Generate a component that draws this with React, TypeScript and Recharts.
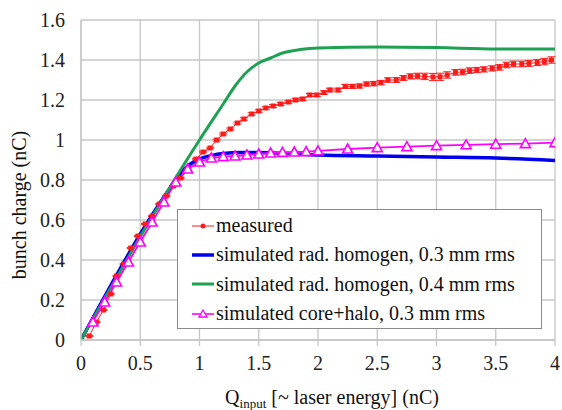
import React from "react";
import {
  ComposedChart,
  Line,
  XAxis,
  YAxis,
  CartesianGrid,
  ErrorBar,
  Legend,
  Label,
} from "recharts";

// ---- data ----
const measuredQ = [
  0.07, 0.13, 0.19, 0.25, 0.3, 0.36, 0.42, 0.48, 0.54, 0.6, 0.66, 0.72, 0.78, 0.84, 0.9, 0.97,
  1.03, 1.09, 1.145, 1.2, 1.26, 1.32, 1.375, 1.44, 1.5, 1.56, 1.62, 1.685, 1.75, 1.81, 1.87,
  1.93, 1.99, 2.05, 2.1, 2.17, 2.23, 2.29, 2.35, 2.41, 2.47, 2.53, 2.59, 2.66, 2.72, 2.78, 2.84,
  2.9, 2.97, 3.03, 3.09, 3.16, 3.22, 3.28, 3.34, 3.4, 3.47, 3.53, 3.59, 3.65, 3.72, 3.78, 3.85,
  3.91, 3.97,
];
const measuredCharge = [
  0.02, 0.09, 0.15, 0.23, 0.32, 0.38, 0.46, 0.52, 0.58, 0.62, 0.68, 0.72, 0.77, 0.81, 0.85, 0.905,
  0.94, 0.96, 1.0, 1.03, 1.055, 1.085, 1.105, 1.13, 1.145, 1.16, 1.17, 1.18, 1.19, 1.2, 1.205,
  1.225, 1.225, 1.237, 1.25, 1.25, 1.268, 1.268, 1.27, 1.28, 1.282, 1.287, 1.3, 1.3, 1.31, 1.318,
  1.32, 1.318, 1.315, 1.316, 1.325, 1.338, 1.34, 1.347, 1.35, 1.353, 1.358, 1.363, 1.375, 1.38,
  1.38, 1.383, 1.387, 1.392, 1.4,
];
const measuredErr = [
  0.003, 0.003, 0.003, 0.003, 0.003, 0.003, 0.003, 0.003, 0.003, 0.003, 0.003, 0.003, 0.003, 0.003,
  0.004, 0.004, 0.004, 0.004, 0.005, 0.005, 0.005, 0.005, 0.006, 0.006, 0.006, 0.006, 0.007, 0.007,
  0.007, 0.008, 0.008, 0.008, 0.008, 0.009, 0.009, 0.009, 0.01, 0.01, 0.01, 0.01, 0.011, 0.011,
  0.011, 0.012, 0.012, 0.013, 0.014, 0.016, 0.018, 0.018, 0.016, 0.014, 0.014, 0.014, 0.013, 0.013,
  0.013, 0.014, 0.014, 0.014, 0.014, 0.015, 0.015, 0.016, 0.016,
];

const blueQ = [0, 0.8, 0.85, 0.9, 0.95, 1.0, 1.1, 1.2, 1.35, 1.5, 1.75, 2.0, 2.5, 3.0, 3.5, 4.0];
const blueCharge = [0, 0.8, 0.84, 0.87, 0.89, 0.905, 0.922, 0.932, 0.937, 0.937, 0.932, 0.925, 0.92, 0.915, 0.91, 0.898];

const greenQ = [0, 1.0, 1.2, 1.3, 1.4, 1.5, 1.6, 1.7, 1.85, 2.0, 2.5, 3.0, 3.5, 4.0];
const greenCharge = [0, 1.0, 1.18, 1.27, 1.34, 1.385, 1.41, 1.435, 1.452, 1.46, 1.465, 1.462, 1.455, 1.455];

const haloQ = [
  0.1, 0.2, 0.3, 0.4, 0.5, 0.6, 0.7, 0.8, 0.9, 1.0, 1.1, 1.2, 1.3, 1.4, 1.5, 1.6, 1.7, 1.8, 1.9,
  2.0, 2.25, 2.5, 2.75, 3.0, 3.25, 3.5, 3.75, 4.0,
];
const haloCharge = [
  0.09, 0.19, 0.29, 0.39, 0.49, 0.59, 0.69, 0.79, 0.855, 0.89, 0.91, 0.917, 0.92, 0.925, 0.93,
  0.935, 0.938, 0.94, 0.942, 0.946, 0.955, 0.962, 0.967, 0.972, 0.976, 0.979, 0.982, 0.987,
];

const xTicks = [0, 0.5, 1, 1.5, 2, 2.5, 3, 3.5, 4];
const yTicks = [0, 0.2, 0.4, 0.6, 0.8, 1, 1.2, 1.4, 1.6];

const legendLabels = [
  "measured",
  "simulated rad. homogen, 0.3 mm rms",
  "simulated rad. homogen, 0.4 mm rms",
  "simulated core+halo, 0.3 mm rms",
];

// ---- build tables ----
const measuredData = measuredQ.map((x, i) => ({ x, y: measuredCharge[i], err: measuredErr[i] }));
const blueData = blueQ.map((x, i) => ({ x, y: blueCharge[i] }));
const greenData = greenQ.map((x, i) => ({ x, y: greenCharge[i] }));
const haloData = haloQ.map((x, i) => ({ x, y: haloCharge[i] }));

const RED = "#ff1a1a";
const BLUE = "#0000f0";
const GREEN = "#1ea152";
const MAGENTA = "#ff00ff";
const GRID = "#c6c6c6";
const FONT = '"Liberation Serif", "DejaVu Serif", serif';

const SquareDot = (props: any) => {
  const { cx, cy, index } = props;
  if (cx == null || cy == null) return <g key={`s${index}`} />;
  return <rect key={`s${index}`} x={cx - 2.5} y={cy - 2.5} width={5} height={5} fill={RED} />;
};

const TriangleDot = (props: any) => {
  const { cx, cy, index } = props;
  if (cx == null || cy == null) return <g key={`t${index}`} />;
  return (
    <polygon
      key={`t${index}`}
      points={`${cx},${cy - 5} ${cx - 5},${cy + 4} ${cx + 5},${cy + 4}`}
      fill="#ffffff"
      stroke={MAGENTA}
      strokeWidth={1.6}
    />
  );
};

const LegendIcon = ({ idx }: { idx: number }) => {
  return (
    <svg width={22} height={12} style={{ display: "block" }}>
      {idx === 0 && (
        <>
          <line x1={0} y1={6} x2={22} y2={6} stroke={RED} strokeWidth={1} />
          <circle cx={11} cy={6} r={2.5} fill={RED} />
        </>
      )}
      {idx === 1 && <line x1={0} y1={6} x2={22} y2={6} stroke={BLUE} strokeWidth={3.5} />}
      {idx === 2 && <line x1={0} y1={6} x2={22} y2={6} stroke={GREEN} strokeWidth={3} />}
      {idx === 3 && (
        <>
          <line x1={0} y1={6} x2={22} y2={6} stroke={MAGENTA} strokeWidth={1.6} />
          <polygon points="11,2 7,9 15,9" fill="#ffffff" stroke={MAGENTA} strokeWidth={1.3} />
        </>
      )}
    </svg>
  );
};

const LegendBox = () => (
  <div
    style={{
      width: 363,
      height: 117,
      border: "1px solid #8a8a8a",
      background: "#ffffff",
      boxSizing: "content-box",
      fontFamily: FONT,
      fontSize: 20,
      color: "#111",
      paddingTop: 1,
    }}
  >
    {legendLabels.map((t, i) => (
      <div
        key={t}
        style={{ display: "flex", alignItems: "center", height: 29.3, paddingLeft: 14, whiteSpace: "nowrap" }}
      >
        <LegendIcon idx={i} />
        <span style={{ marginLeft: 2 }}>{t}</span>
      </div>
    ))}
  </div>
);

const XTitle = () => {
  return (
    <text x={332} y={404} textAnchor="middle" fontFamily={FONT} fontSize={20} fill="#111">
      <tspan>Q</tspan>
      <tspan fontSize={13} dy={4}>input</tspan>
      <tspan dy={-4}> [~ laser energy] (nC)</tspan>
    </text>
  );
};

const YTitle = () => {
  const x = 19;
  const y = 205;
  return (
    <text
      x={x}
      y={y}
      transform={`rotate(-90 ${x} ${y})`}
      textAnchor="middle"
      dominantBaseline="central"
      fontFamily={FONT}
      fontSize={20}
      fill="#111"
    >
      bunch charge (nC)
    </text>
  );
};

export default function App() {
  return (
    <div style={{ position: "absolute", left: 0, top: 0, width: 562, height: 410 }}>
      <ComposedChart
        width={562}
        height={410}
        margin={{ top: 20, right: 7, left: 0, bottom: 0 }}
        style={{ fontFamily: FONT }}
      >
        <CartesianGrid stroke={GRID} strokeWidth={1.3} />
        <XAxis
          type="number"
          dataKey="x"
          domain={[0, 4]}
          ticks={xTicks}
          allowDataOverflow
          height={70}
          axisLine={{ stroke: GRID, strokeWidth: 1.3 }}
          tickLine={{ stroke: GRID, strokeWidth: 1.3 }}
          tickSize={6}
          tickMargin={10}
          tick={{ fontSize: 20, fill: "#222", fontFamily: FONT }}
        >
          <Label content={<XTitle />} />
        </XAxis>
        <YAxis
          type="number"
          domain={[0, 1.6]}
          ticks={yTicks}
          allowDataOverflow
          width={81}
          axisLine={{ stroke: GRID, strokeWidth: 1.3 }}
          tickLine={false}
          tickSize={6}
          tickMargin={10}
          tick={{ fontSize: 20, fill: "#222", fontFamily: FONT }}
        >
          <Label content={<YTitle />} />
        </YAxis>
        <Legend
          layout="vertical"
          align="center"
          verticalAlign="middle"
          content={() => <LegendBox />}
          wrapperStyle={{ position: "absolute", left: 177, top: 209, width: 365, height: 119 }}
        />
        <Line
          data={measuredData}
          dataKey="y"
          type="linear"
          stroke={RED}
          strokeWidth={1}
          dot={SquareDot}
          activeDot={false}
          isAnimationActive={false}
        >
          <ErrorBar dataKey="err" width={4} stroke={RED} strokeWidth={1} direction="y" />
        </Line>
        <Line
          data={blueData}
          dataKey="y"
          type="monotone"
          stroke={BLUE}
          strokeWidth={3.5}
          dot={false}
          activeDot={false}
          isAnimationActive={false}
        />
        <Line
          data={greenData}
          dataKey="y"
          type="monotone"
          stroke={GREEN}
          strokeWidth={3}
          dot={false}
          activeDot={false}
          isAnimationActive={false}
        />
        <Line
          data={haloData}
          dataKey="y"
          type="linear"
          stroke={MAGENTA}
          strokeWidth={1.8}
          dot={TriangleDot}
          activeDot={false}
          isAnimationActive={false}
        />
      </ComposedChart>
    </div>
  );
}
